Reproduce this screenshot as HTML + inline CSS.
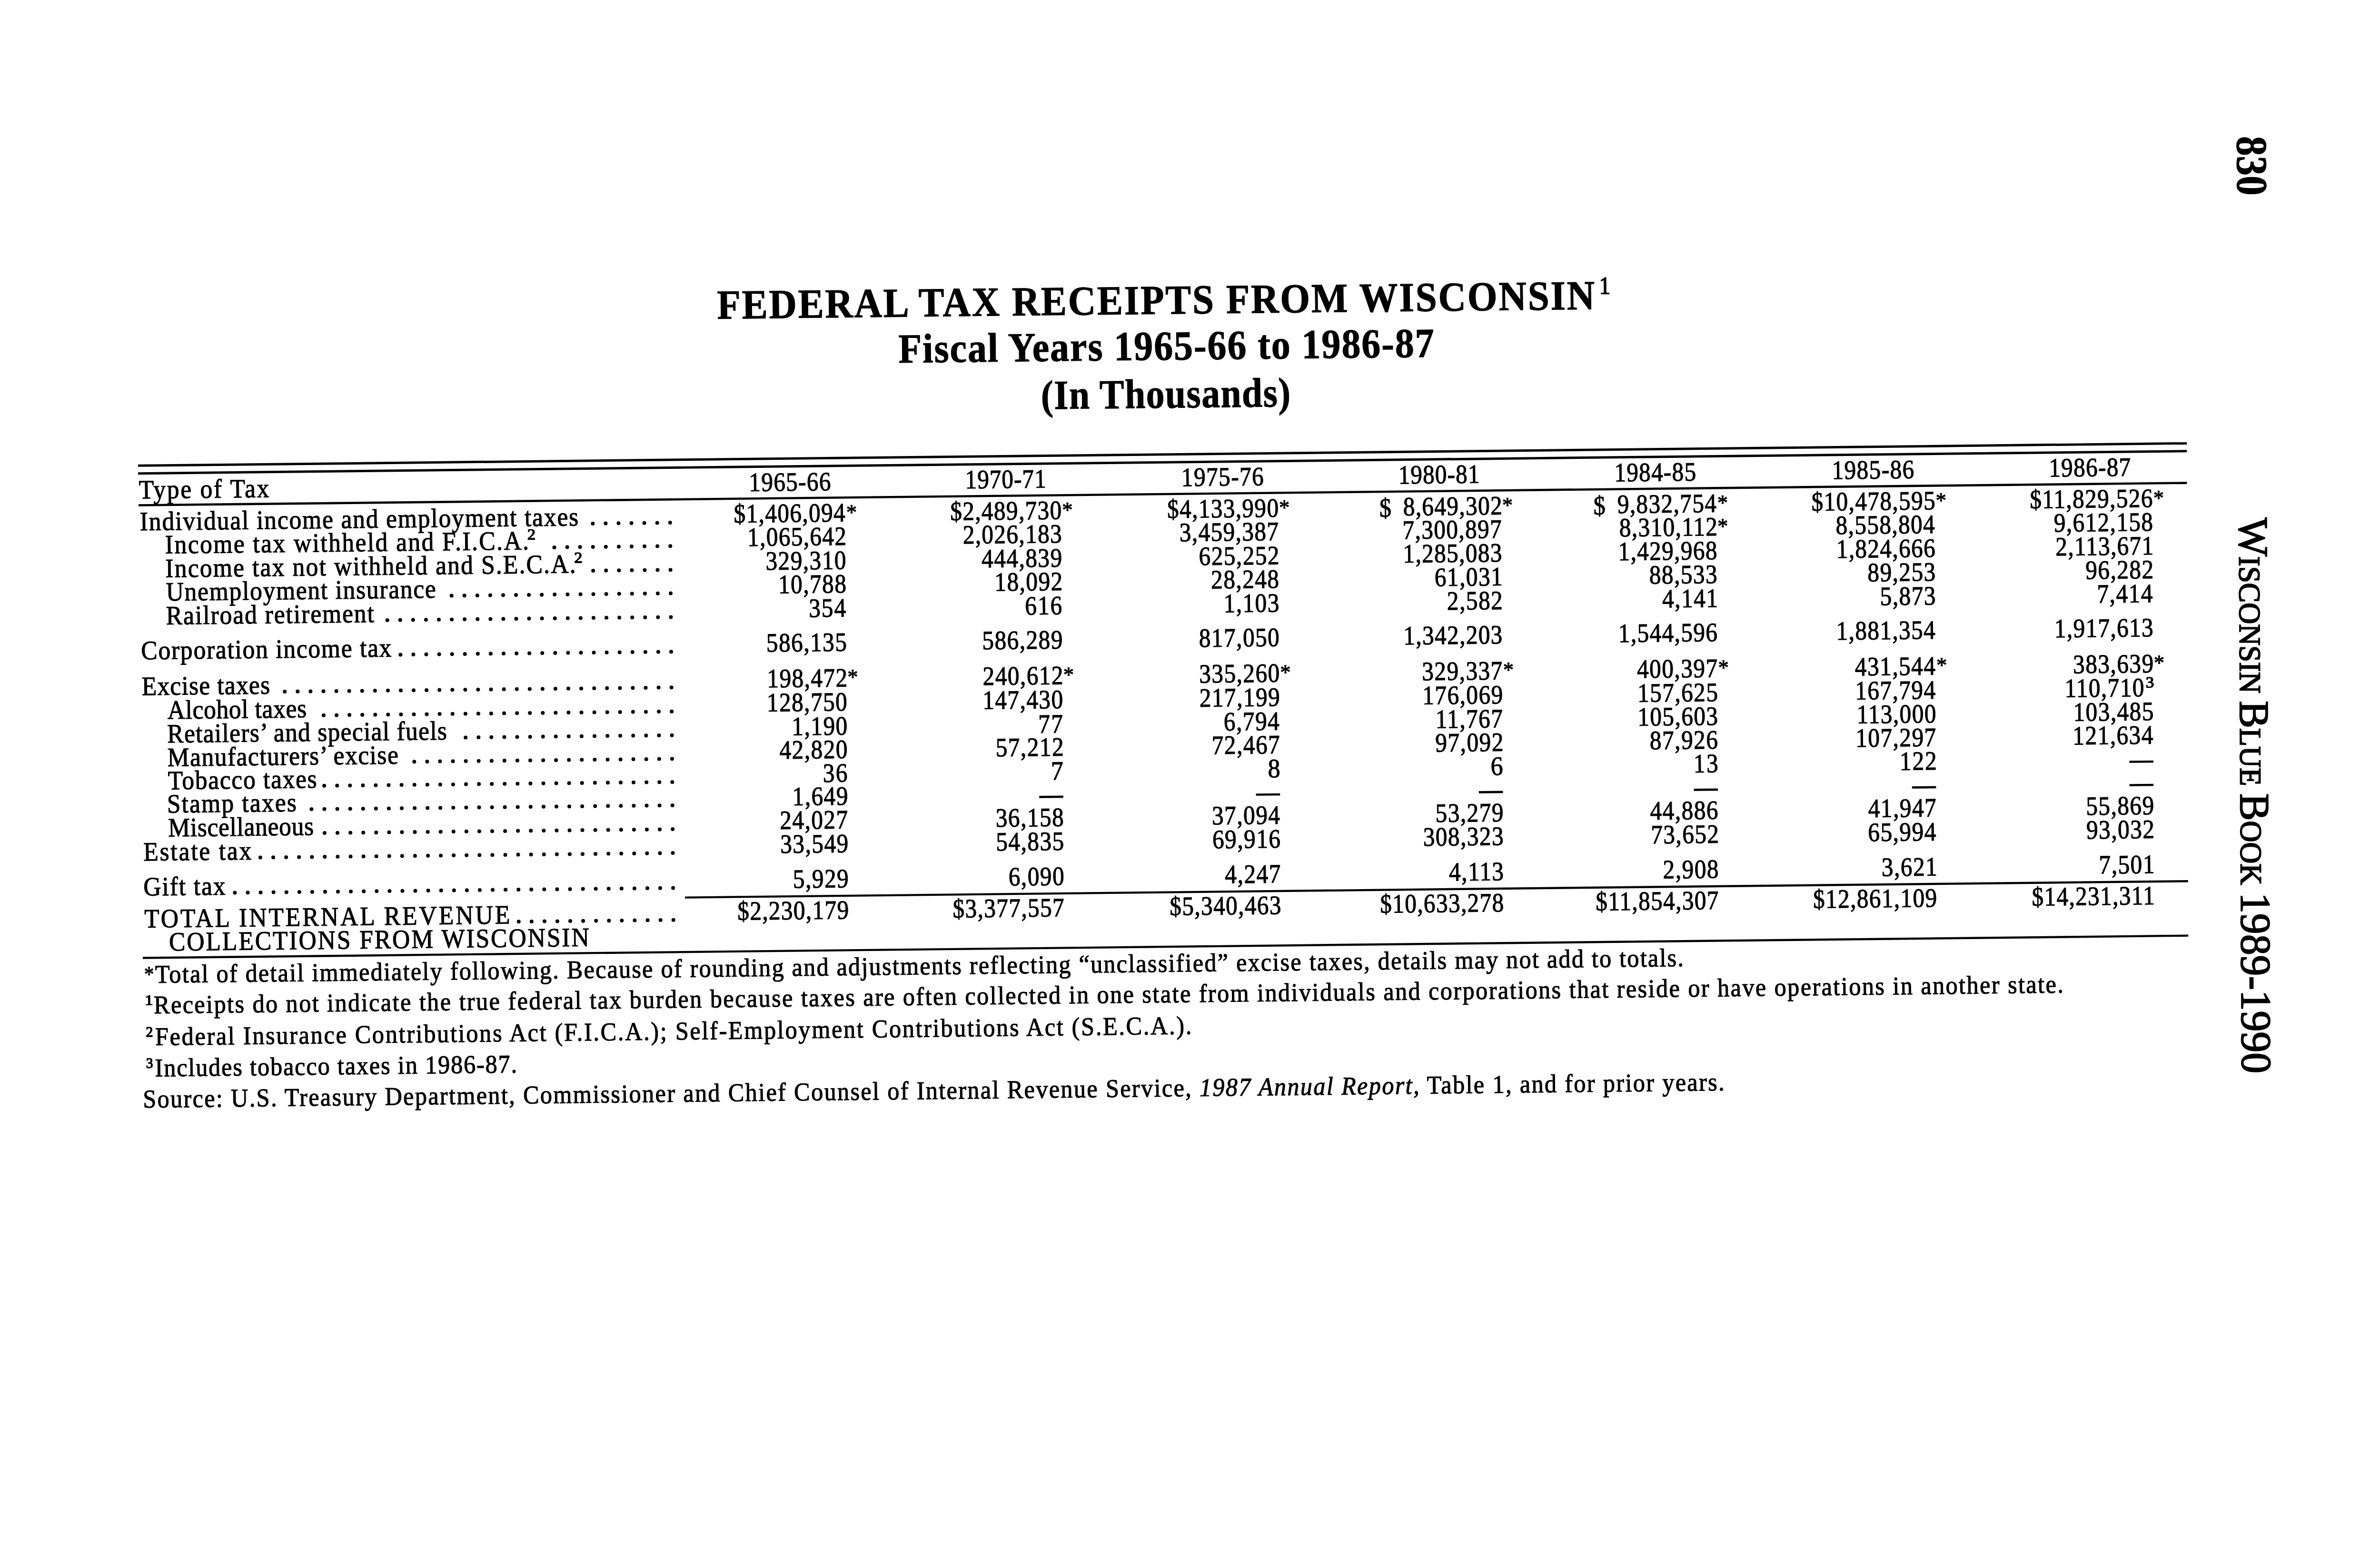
<!DOCTYPE html>
<html><head><meta charset="utf-8"><title>Federal Tax Receipts from Wisconsin</title>
<style>
html,body{margin:0;padding:0;background:#fff;}
body{width:5220px;height:3248px;overflow:hidden;}
svg{display:block;will-change:transform;}
text{font-family:"Liberation Serif",serif;fill:#000;stroke:#000;stroke-width:1.1px;}
</style></head><body>
<svg width="5220" height="3248" viewBox="0 0 5220 3248">
<rect width="5220" height="3248" fill="#fff"/>
<g fill="#000">
<text x="0" y="0" font-size="87.0" font-weight="bold" letter-spacing="3.01" transform="rotate(-0.6245 1506.7 669.7) translate(1506.7 669.7) scale(0.930 1)">FEDERAL TAX RECEIPTS FROM WISCONSIN</text>
<text x="3360.0" y="617.4" font-size="52.0" textLength="23.0" lengthAdjust="spacingAndGlyphs" transform="rotate(-0.6245 3360.0 617.4)" style="stroke-width:1.8px">1</text>
<text x="0" y="0" font-size="87.0" font-weight="bold" letter-spacing="2.06" transform="rotate(-0.6245 1887.8 762.0) translate(1887.8 762.0) scale(0.920 1)">Fiscal Years 1965-66 to 1986-87</text>
<text x="0" y="0" font-size="87.0" font-weight="bold" letter-spacing="1.71" transform="rotate(-0.6245 2187.3 859.5) translate(2187.3 859.5) scale(0.890 1)">(In Thousands)</text>
<rect x="290.0" y="975.8" width="4304.5" height="5.0" transform="rotate(-0.6245 290.0 978.3)"/>
<rect x="290.0" y="992.2" width="4304.5" height="5.0" transform="rotate(-0.6245 290.0 994.7)"/>
<rect x="291.0" y="1059.2" width="4303.5" height="4.6" transform="rotate(-0.6245 291.0 1061.5)"/>
<rect x="1439.0" y="1883.4" width="3158.0" height="4.4" transform="rotate(-0.6245 1439.0 1885.6)"/>
<rect x="300.0" y="2010.3" width="4297.5" height="4.4" transform="rotate(-0.6245 300.0 2012.5)"/>
<text x="0" y="0" font-size="56.0" letter-spacing="2.962" transform="rotate(-0.6245 291.9 1047.5) translate(291.9 1047.5) scale(0.9200 1)">Type of Tax</text>
<text x="0" y="0" font-size="56.0" letter-spacing="1.486" transform="rotate(-0.6245 1573.5 1032.0) translate(1573.5 1032.0) scale(0.8800 1)">1965-66</text>
<text x="0" y="0" font-size="56.0" letter-spacing="1.106" transform="rotate(-0.6245 2027.8 1026.3) translate(2027.8 1026.3) scale(0.8800 1)">1970-71</text>
<text x="0" y="0" font-size="56.0" letter-spacing="1.638" transform="rotate(-0.6245 2482.1 1021.4) translate(2482.1 1021.4) scale(0.8800 1)">1975-76</text>
<text x="0" y="0" font-size="56.0" letter-spacing="1.239" transform="rotate(-0.6245 2937.9 1016.4) translate(2937.9 1016.4) scale(0.8800 1)">1980-81</text>
<text x="0" y="0" font-size="56.0" letter-spacing="1.440" transform="rotate(-0.6245 3391.5 1011.5) translate(3391.5 1011.5) scale(0.8800 1)">1984-85</text>
<text x="0" y="0" font-size="56.0" letter-spacing="1.619" transform="rotate(-0.6245 3848.7 1006.5) translate(3848.7 1006.5) scale(0.8800 1)">1985-86</text>
<text x="0" y="0" font-size="56.0" letter-spacing="1.496" transform="rotate(-0.6245 4304.4 1001.5) translate(4304.4 1001.5) scale(0.8800 1)">1986-87</text>
<text x="0" y="0" font-size="56.0" letter-spacing="2.021" transform="rotate(-0.6245 294.1 1114.2) translate(294.1 1114.2) scale(0.9200 1)">Individual income and employment taxes</text>
<text x="0" y="0" font-size="56.0" letter-spacing="1.570" transform="rotate(-0.6245 1541.7 1098.1) translate(1541.7 1098.1) scale(0.8800 1)">$1,406,094</text>
<text x="1777.9" y="1091.4" font-size="46.0" textLength="22.3" lengthAdjust="spacingAndGlyphs" transform="rotate(-0.6245 1777.9 1091.4)">*</text>
<text x="0" y="0" font-size="56.0" letter-spacing="1.562" transform="rotate(-0.6245 1996.4 1093.1) translate(1996.4 1093.1) scale(0.8800 1)">$2,489,730</text>
<text x="2231.5" y="1086.5" font-size="46.0" textLength="22.3" lengthAdjust="spacingAndGlyphs" transform="rotate(-0.6245 2231.5 1086.5)">*</text>
<text x="0" y="0" font-size="56.0" letter-spacing="1.562" transform="rotate(-0.6245 2452.2 1088.2) translate(2452.2 1088.2) scale(0.8800 1)">$4,133,990</text>
<text x="2687.3" y="1081.5" font-size="46.0" textLength="22.3" lengthAdjust="spacingAndGlyphs" transform="rotate(-0.6245 2687.3 1081.5)">*</text>
<text x="0" y="0" font-size="56.0" letter-spacing="1.554" transform="rotate(-0.6245 2947.9 1083.1) translate(2947.9 1083.1) scale(0.8800 1)">8,649,302</text>
<text x="2898.1" y="1085.8" font-size="56.0" textLength="25.2" lengthAdjust="spacingAndGlyphs" transform="rotate(-0.6245 2898.1 1085.8)">$</text>
<text x="3156.0" y="1076.4" font-size="46.0" textLength="22.3" lengthAdjust="spacingAndGlyphs" transform="rotate(-0.6245 3156.0 1076.4)">*</text>
<text x="0" y="0" font-size="56.0" letter-spacing="1.572" transform="rotate(-0.6245 3397.9 1078.1) translate(3397.9 1078.1) scale(0.8800 1)">9,832,754</text>
<text x="3347.8" y="1080.9" font-size="56.0" textLength="25.2" lengthAdjust="spacingAndGlyphs" transform="rotate(-0.6245 3347.8 1080.9)">$</text>
<text x="3608.1" y="1071.5" font-size="46.0" textLength="22.3" lengthAdjust="spacingAndGlyphs" transform="rotate(-0.6245 3608.1 1071.5)">*</text>
<text x="0" y="0" font-size="56.0" letter-spacing="1.565" transform="rotate(-0.6245 3805.8 1073.1) translate(3805.8 1073.1) scale(0.8800 1)">$10,478,595</text>
<text x="4066.8" y="1066.5" font-size="46.0" textLength="22.3" lengthAdjust="spacingAndGlyphs" transform="rotate(-0.6245 4066.8 1066.5)">*</text>
<text x="0" y="0" font-size="56.0" letter-spacing="1.556" transform="rotate(-0.6245 4264.4 1068.1) translate(4264.4 1068.1) scale(0.8800 1)">$11,829,526</text>
<text x="4524.0" y="1061.5" font-size="46.0" textLength="22.3" lengthAdjust="spacingAndGlyphs" transform="rotate(-0.6245 4524.0 1061.5)">*</text>
<text x="0" y="0" font-size="56.0" letter-spacing="2.660" transform="rotate(-0.6245 347.1 1162.8) translate(347.1 1162.8) scale(0.9200 1)">Income tax withheld and F.I.C.A.</text>
<text x="1108.0" y="1133.5" font-size="32.0" textLength="17.1" lengthAdjust="spacingAndGlyphs" transform="rotate(-0.6245 1108.0 1133.5)" style="stroke-width:1.6px">2</text>
<text x="0" y="0" font-size="56.0" letter-spacing="1.534" transform="rotate(-0.6245 1570.3 1147.3) translate(1570.3 1147.3) scale(0.8800 1)">1,065,642</text>
<text x="0" y="0" font-size="56.0" letter-spacing="1.558" transform="rotate(-0.6245 2022.9 1142.3) translate(2022.9 1142.3) scale(0.8800 1)">2,026,183</text>
<text x="0" y="0" font-size="56.0" letter-spacing="1.560" transform="rotate(-0.6245 2478.1 1137.3) translate(2478.1 1137.3) scale(0.8800 1)">3,459,387</text>
<text x="0" y="0" font-size="56.0" letter-spacing="1.553" transform="rotate(-0.6245 2946.8 1132.2) translate(2946.8 1132.2) scale(0.8800 1)">7,300,897</text>
<text x="0" y="0" font-size="56.0" letter-spacing="1.539" transform="rotate(-0.6245 3402.1 1127.3) translate(3402.1 1127.3) scale(0.8800 1)">8,310,112</text>
<text x="3608.3" y="1120.7" font-size="46.0" textLength="22.3" lengthAdjust="spacingAndGlyphs" transform="rotate(-0.6245 3608.3 1120.7)">*</text>
<text x="0" y="0" font-size="56.0" letter-spacing="1.570" transform="rotate(-0.6245 3856.8 1122.3) translate(3856.8 1122.3) scale(0.8800 1)">8,558,804</text>
<text x="0" y="0" font-size="56.0" letter-spacing="1.563" transform="rotate(-0.6245 4315.1 1117.3) translate(4315.1 1117.3) scale(0.8800 1)">9,612,158</text>
<text x="0" y="0" font-size="56.0" letter-spacing="2.383" transform="rotate(-0.6245 347.6 1212.7) translate(347.6 1212.7) scale(0.9200 1)">Income tax not withheld and S.E.C.A.</text>
<text x="1206.5" y="1182.3" font-size="32.0" textLength="17.1" lengthAdjust="spacingAndGlyphs" transform="rotate(-0.6245 1206.5 1182.3)" style="stroke-width:1.6px">2</text>
<text x="0" y="0" font-size="56.0" letter-spacing="1.678" transform="rotate(-0.6245 1608.7 1197.2) translate(1608.7 1197.2) scale(0.8800 1)">329,310</text>
<text x="0" y="0" font-size="56.0" letter-spacing="1.691" transform="rotate(-0.6245 2062.3 1192.2) translate(2062.3 1192.2) scale(0.8800 1)">444,839</text>
<text x="0" y="0" font-size="56.0" letter-spacing="1.671" transform="rotate(-0.6245 2518.8 1187.2) translate(2518.8 1187.2) scale(0.8800 1)">625,252</text>
<text x="0" y="0" font-size="56.0" letter-spacing="1.540" transform="rotate(-0.6245 2947.7 1182.1) translate(2947.7 1182.1) scale(0.8800 1)">1,285,083</text>
<text x="0" y="0" font-size="56.0" letter-spacing="1.541" transform="rotate(-0.6245 3399.7 1177.2) translate(3399.7 1177.2) scale(0.8800 1)">1,429,968</text>
<text x="0" y="0" font-size="56.0" letter-spacing="1.544" transform="rotate(-0.6245 3857.9 1172.2) translate(3857.9 1172.2) scale(0.8800 1)">1,824,666</text>
<text x="0" y="0" font-size="56.0" letter-spacing="1.535" transform="rotate(-0.6245 4318.4 1167.2) translate(4318.4 1167.2) scale(0.8800 1)">2,113,671</text>
<text x="0" y="0" font-size="56.0" letter-spacing="1.884" transform="rotate(-0.6245 348.9 1262.0) translate(348.9 1262.0) scale(0.9200 1)">Unemployment insurance</text>
<text x="0" y="0" font-size="56.0" letter-spacing="1.670" transform="rotate(-0.6245 1635.2 1246.5) translate(1635.2 1246.5) scale(0.8800 1)">10,788</text>
<text x="0" y="0" font-size="56.0" letter-spacing="1.659" transform="rotate(-0.6245 2089.6 1241.5) translate(2089.6 1241.5) scale(0.8800 1)">18,092</text>
<text x="0" y="0" font-size="56.0" letter-spacing="1.698" transform="rotate(-0.6245 2544.3 1236.5) translate(2544.3 1236.5) scale(0.8800 1)">28,248</text>
<text x="0" y="0" font-size="56.0" letter-spacing="1.684" transform="rotate(-0.6245 3014.0 1231.4) translate(3014.0 1231.4) scale(0.8800 1)">61,031</text>
<text x="0" y="0" font-size="56.0" letter-spacing="1.701" transform="rotate(-0.6245 3464.9 1226.5) translate(3464.9 1226.5) scale(0.8800 1)">88,533</text>
<text x="0" y="0" font-size="56.0" letter-spacing="1.701" transform="rotate(-0.6245 3923.5 1221.5) translate(3923.5 1221.5) scale(0.8800 1)">89,253</text>
<text x="0" y="0" font-size="56.0" letter-spacing="1.694" transform="rotate(-0.6245 4381.4 1216.5) translate(4381.4 1216.5) scale(0.8800 1)">96,282</text>
<text x="0" y="0" font-size="56.0" letter-spacing="2.128" transform="rotate(-0.6245 349.0 1311.9) translate(349.0 1311.9) scale(0.9200 1)">Railroad retirement</text>
<text x="0" y="0" font-size="56.0" letter-spacing="2.285" transform="rotate(-0.6245 1699.4 1296.4) translate(1699.4 1296.4) scale(0.8800 1)">354</text>
<text x="0" y="0" font-size="56.0" letter-spacing="2.271" transform="rotate(-0.6245 2153.6 1291.4) translate(2153.6 1291.4) scale(0.8800 1)">616</text>
<text x="0" y="0" font-size="56.0" letter-spacing="1.689" transform="rotate(-0.6245 2570.8 1286.4) translate(2570.8 1286.4) scale(0.8800 1)">1,103</text>
<text x="0" y="0" font-size="56.0" letter-spacing="1.711" transform="rotate(-0.6245 3040.1 1281.3) translate(3040.1 1281.3) scale(0.8800 1)">2,582</text>
<text x="0" y="0" font-size="56.0" letter-spacing="1.726" transform="rotate(-0.6245 3492.2 1276.4) translate(3492.2 1276.4) scale(0.8800 1)">4,141</text>
<text x="0" y="0" font-size="56.0" letter-spacing="1.712" transform="rotate(-0.6245 3949.8 1271.4) translate(3949.8 1271.4) scale(0.8800 1)">5,873</text>
<text x="0" y="0" font-size="56.0" letter-spacing="1.725" transform="rotate(-0.6245 4405.7 1266.4) translate(4405.7 1266.4) scale(0.8800 1)">7,414</text>
<text x="0" y="0" font-size="56.0" letter-spacing="1.906" transform="rotate(-0.6245 296.6 1385.3) translate(296.6 1385.3) scale(0.9200 1)">Corporation income tax</text>
<text x="0" y="0" font-size="56.0" letter-spacing="1.672" transform="rotate(-0.6245 1610.1 1369.2) translate(1610.1 1369.2) scale(0.8800 1)">586,135</text>
<text x="0" y="0" font-size="56.0" letter-spacing="1.671" transform="rotate(-0.6245 2063.6 1364.2) translate(2063.6 1364.2) scale(0.8800 1)">586,289</text>
<text x="0" y="0" font-size="56.0" letter-spacing="1.683" transform="rotate(-0.6245 2519.0 1359.3) translate(2519.0 1359.3) scale(0.8800 1)">817,050</text>
<text x="0" y="0" font-size="56.0" letter-spacing="1.540" transform="rotate(-0.6245 2948.6 1354.2) translate(2948.6 1354.2) scale(0.8800 1)">1,342,203</text>
<text x="0" y="0" font-size="56.0" letter-spacing="1.544" transform="rotate(-0.6245 3400.1 1349.2) translate(3400.1 1349.2) scale(0.8800 1)">1,544,596</text>
<text x="0" y="0" font-size="56.0" letter-spacing="1.550" transform="rotate(-0.6245 3857.8 1344.2) translate(3857.8 1344.2) scale(0.8800 1)">1,881,354</text>
<text x="0" y="0" font-size="56.0" letter-spacing="1.540" transform="rotate(-0.6245 4316.0 1339.3) translate(4316.0 1339.3) scale(0.8800 1)">1,917,613</text>
<text x="0" y="0" font-size="56.0" letter-spacing="1.306" transform="rotate(-0.6245 298.0 1460.4) translate(298.0 1460.4) scale(0.9200 1)">Excise taxes</text>
<text x="0" y="0" font-size="56.0" letter-spacing="1.648" transform="rotate(-0.6245 1611.6 1444.3) translate(1611.6 1444.3) scale(0.8800 1)">198,472</text>
<text x="1780.6" y="1437.6" font-size="46.0" textLength="22.3" lengthAdjust="spacingAndGlyphs" transform="rotate(-0.6245 1780.6 1437.6)">*</text>
<text x="0" y="0" font-size="56.0" letter-spacing="1.671" transform="rotate(-0.6245 2064.8 1439.3) translate(2064.8 1439.3) scale(0.8800 1)">240,612</text>
<text x="2233.9" y="1432.7" font-size="46.0" textLength="22.3" lengthAdjust="spacingAndGlyphs" transform="rotate(-0.6245 2233.9 1432.7)">*</text>
<text x="0" y="0" font-size="56.0" letter-spacing="1.678" transform="rotate(-0.6245 2519.5 1434.4) translate(2519.5 1434.4) scale(0.8800 1)">335,260</text>
<text x="2689.5" y="1427.7" font-size="46.0" textLength="22.3" lengthAdjust="spacingAndGlyphs" transform="rotate(-0.6245 2689.5 1427.7)">*</text>
<text x="0" y="0" font-size="56.0" letter-spacing="1.683" transform="rotate(-0.6245 2987.5 1429.3) translate(2987.5 1429.3) scale(0.8800 1)">329,337</text>
<text x="3157.9" y="1422.6" font-size="46.0" textLength="22.3" lengthAdjust="spacingAndGlyphs" transform="rotate(-0.6245 3157.9 1422.6)">*</text>
<text x="0" y="0" font-size="56.0" letter-spacing="1.698" transform="rotate(-0.6245 3439.2 1424.3) translate(3439.2 1424.3) scale(0.8800 1)">400,397</text>
<text x="3609.8" y="1417.7" font-size="46.0" textLength="22.3" lengthAdjust="spacingAndGlyphs" transform="rotate(-0.6245 3609.8 1417.7)">*</text>
<text x="0" y="0" font-size="56.0" letter-spacing="1.705" transform="rotate(-0.6245 3897.0 1419.4) translate(3897.0 1419.4) scale(0.8800 1)">431,544</text>
<text x="4068.2" y="1412.7" font-size="46.0" textLength="22.3" lengthAdjust="spacingAndGlyphs" transform="rotate(-0.6245 4068.2 1412.7)">*</text>
<text x="0" y="0" font-size="56.0" letter-spacing="1.676" transform="rotate(-0.6245 4355.3 1414.4) translate(4355.3 1414.4) scale(0.8800 1)">383,639</text>
<text x="4525.1" y="1407.7" font-size="46.0" textLength="22.3" lengthAdjust="spacingAndGlyphs" transform="rotate(-0.6245 4525.1 1407.7)">*</text>
<text x="0" y="0" font-size="56.0" letter-spacing="0.687" transform="rotate(-0.6245 352.0 1510.3) translate(352.0 1510.3) scale(0.9200 1)">Alcohol taxes</text>
<text x="0" y="0" font-size="56.0" letter-spacing="1.657" transform="rotate(-0.6245 1611.1 1494.8) translate(1611.1 1494.8) scale(0.8800 1)">128,750</text>
<text x="0" y="0" font-size="56.0" letter-spacing="1.657" transform="rotate(-0.6245 2064.4 1489.8) translate(2064.4 1489.8) scale(0.8800 1)">147,430</text>
<text x="0" y="0" font-size="56.0" letter-spacing="1.678" transform="rotate(-0.6245 2519.9 1484.9) translate(2519.9 1484.9) scale(0.8800 1)">217,199</text>
<text x="0" y="0" font-size="56.0" letter-spacing="1.655" transform="rotate(-0.6245 2988.5 1479.7) translate(2988.5 1479.7) scale(0.8800 1)">176,069</text>
<text x="0" y="0" font-size="56.0" letter-spacing="1.656" transform="rotate(-0.6245 3440.2 1474.8) translate(3440.2 1474.8) scale(0.8800 1)">157,625</text>
<text x="0" y="0" font-size="56.0" letter-spacing="1.669" transform="rotate(-0.6245 3897.4 1469.8) translate(3897.4 1469.8) scale(0.8800 1)">167,794</text>
<text x="4507.9" y="1444.3" font-size="32.0" textLength="17.3" lengthAdjust="spacingAndGlyphs" transform="rotate(-0.6245 4507.9 1444.3)" style="stroke-width:1.6px">3</text>
<text x="0" y="0" font-size="56.0" letter-spacing="1.637" transform="rotate(-0.6245 4337.7 1464.8) translate(4337.7 1464.8) scale(0.8800 1)">110,710</text>
<text x="0" y="0" font-size="56.0" letter-spacing="1.410" transform="rotate(-0.6245 351.5 1560.2) translate(351.5 1560.2) scale(0.9200 1)">Retailers’ and special fuels</text>
<text x="0" y="0" font-size="56.0" letter-spacing="1.690" transform="rotate(-0.6245 1663.6 1544.7) translate(1663.6 1544.7) scale(0.8800 1)">1,190</text>
<text x="0" y="0" font-size="56.0" letter-spacing="2.880" transform="rotate(-0.6245 2181.4 1539.7) translate(2181.4 1539.7) scale(0.8800 1)">77</text>
<text x="0" y="0" font-size="56.0" letter-spacing="1.743" transform="rotate(-0.6245 2571.0 1534.8) translate(2571.0 1534.8) scale(0.8800 1)">6,794</text>
<text x="0" y="0" font-size="56.0" letter-spacing="1.652" transform="rotate(-0.6245 3016.1 1529.7) translate(3016.1 1529.7) scale(0.8800 1)">11,767</text>
<text x="0" y="0" font-size="56.0" letter-spacing="1.656" transform="rotate(-0.6245 3440.4 1524.7) translate(3440.4 1524.7) scale(0.8800 1)">105,603</text>
<text x="0" y="0" font-size="56.0" letter-spacing="1.637" transform="rotate(-0.6245 3900.7 1519.7) translate(3900.7 1519.7) scale(0.8800 1)">113,000</text>
<text x="0" y="0" font-size="56.0" letter-spacing="1.656" transform="rotate(-0.6245 4355.7 1514.8) translate(4355.7 1514.8) scale(0.8800 1)">103,485</text>
<text x="0" y="0" font-size="56.0" letter-spacing="1.619" transform="rotate(-0.6245 352.0 1609.8) translate(352.0 1609.8) scale(0.9200 1)">Manufacturers’ excise</text>
<text x="0" y="0" font-size="56.0" letter-spacing="1.713" transform="rotate(-0.6245 1637.7 1594.3) translate(1637.7 1594.3) scale(0.8800 1)">42,820</text>
<text x="0" y="0" font-size="56.0" letter-spacing="1.678" transform="rotate(-0.6245 2091.9 1589.3) translate(2091.9 1589.3) scale(0.8800 1)">57,212</text>
<text x="0" y="0" font-size="56.0" letter-spacing="1.690" transform="rotate(-0.6245 2546.0 1584.4) translate(2546.0 1584.4) scale(0.8800 1)">72,467</text>
<text x="0" y="0" font-size="56.0" letter-spacing="1.694" transform="rotate(-0.6245 3015.6 1579.3) translate(3015.6 1579.3) scale(0.8800 1)">97,092</text>
<text x="0" y="0" font-size="56.0" letter-spacing="1.707" transform="rotate(-0.6245 3466.1 1574.3) translate(3466.1 1574.3) scale(0.8800 1)">87,926</text>
<text x="0" y="0" font-size="56.0" letter-spacing="1.662" transform="rotate(-0.6245 3898.5 1569.3) translate(3898.5 1569.3) scale(0.8800 1)">107,297</text>
<text x="0" y="0" font-size="56.0" letter-spacing="1.669" transform="rotate(-0.6245 4354.6 1564.4) translate(4354.6 1564.4) scale(0.8800 1)">121,634</text>
<text x="0" y="0" font-size="56.0" letter-spacing="1.853" transform="rotate(-0.6245 353.0 1658.4) translate(353.0 1658.4) scale(0.9200 1)">Tobacco taxes</text>
<text x="0" y="0" font-size="56.0" letter-spacing="2.935" transform="rotate(-0.6245 1728.9 1642.9) translate(1728.9 1642.9) scale(0.8800 1)">36</text>
<text x="2234.0" y="1637.9" font-size="56.0" text-anchor="end" textLength="26.0" lengthAdjust="spacingAndGlyphs" transform="rotate(-0.6245 2234.0 1637.9)">7</text>
<text x="2689.8" y="1633.0" font-size="56.0" text-anchor="end" textLength="26.0" lengthAdjust="spacingAndGlyphs" transform="rotate(-0.6245 2689.8 1633.0)">8</text>
<text x="3157.7" y="1627.9" font-size="56.0" text-anchor="end" textLength="26.0" lengthAdjust="spacingAndGlyphs" transform="rotate(-0.6245 3157.7 1627.9)">6</text>
<text x="0" y="0" font-size="56.0" letter-spacing="2.778" transform="rotate(-0.6245 3558.1 1622.9) translate(3558.1 1622.9) scale(0.8800 1)">13</text>
<text x="0" y="0" font-size="56.0" letter-spacing="2.159" transform="rotate(-0.6245 3991.2 1617.9) translate(3991.2 1617.9) scale(0.8800 1)">122</text>
<rect x="4473.4" y="1598.2" width="50.6" height="4.6" transform="rotate(-0.6245 4473.4 1600.5)"/>
<text x="0" y="0" font-size="56.0" letter-spacing="2.366" transform="rotate(-0.6245 351.0 1707.4) translate(351.0 1707.4) scale(0.9200 1)">Stamp taxes</text>
<text x="0" y="0" font-size="56.0" letter-spacing="1.687" transform="rotate(-0.6245 1664.8 1691.9) translate(1664.8 1691.9) scale(0.8800 1)">1,649</text>
<rect x="2183.2" y="1672.1" width="50.6" height="4.6" transform="rotate(-0.6245 2183.2 1674.4)"/>
<rect x="2638.6" y="1667.2" width="50.6" height="4.6" transform="rotate(-0.6245 2638.6 1669.5)"/>
<rect x="3106.8" y="1662.1" width="50.6" height="4.6" transform="rotate(-0.6245 3106.8 1664.4)"/>
<rect x="3558.5" y="1657.1" width="50.6" height="4.6" transform="rotate(-0.6245 3558.5 1659.4)"/>
<rect x="4016.8" y="1652.1" width="50.6" height="4.6" transform="rotate(-0.6245 4016.8 1654.4)"/>
<rect x="4473.5" y="1647.2" width="50.6" height="4.6" transform="rotate(-0.6245 4473.5 1649.5)"/>
<text x="0" y="0" font-size="56.0" letter-spacing="0.753" transform="rotate(-0.6245 353.4 1757.6) translate(353.4 1757.6) scale(0.9200 1)">Miscellaneous</text>
<text x="0" y="0" font-size="56.0" letter-spacing="1.704" transform="rotate(-0.6245 1638.4 1742.1) translate(1638.4 1742.1) scale(0.8800 1)">24,027</text>
<text x="0" y="0" font-size="56.0" letter-spacing="1.695" transform="rotate(-0.6245 2092.0 1737.1) translate(2092.0 1737.1) scale(0.8800 1)">36,158</text>
<text x="0" y="0" font-size="56.0" letter-spacing="1.710" transform="rotate(-0.6245 2546.2 1732.2) translate(2546.2 1732.2) scale(0.8800 1)">37,094</text>
<text x="0" y="0" font-size="56.0" letter-spacing="1.687" transform="rotate(-0.6245 3015.8 1727.1) translate(3015.8 1727.1) scale(0.8800 1)">53,279</text>
<text x="0" y="0" font-size="56.0" letter-spacing="1.719" transform="rotate(-0.6245 3466.7 1722.1) translate(3466.7 1722.1) scale(0.8800 1)">44,886</text>
<text x="0" y="0" font-size="56.0" letter-spacing="1.719" transform="rotate(-0.6245 3924.9 1717.1) translate(3924.9 1717.1) scale(0.8800 1)">41,947</text>
<text x="0" y="0" font-size="56.0" letter-spacing="1.687" transform="rotate(-0.6245 4382.4 1712.2) translate(4382.4 1712.2) scale(0.8800 1)">55,869</text>
<text x="0" y="0" font-size="56.0" letter-spacing="3.052" transform="rotate(-0.6245 301.5 1808.2) translate(301.5 1808.2) scale(0.9200 1)">Estate tax</text>
<text x="0" y="0" font-size="56.0" letter-spacing="1.693" transform="rotate(-0.6245 1639.5 1792.1) translate(1639.5 1792.1) scale(0.8800 1)">33,549</text>
<text x="0" y="0" font-size="56.0" letter-spacing="1.688" transform="rotate(-0.6245 2092.5 1787.2) translate(2092.5 1787.2) scale(0.8800 1)">54,835</text>
<text x="0" y="0" font-size="56.0" letter-spacing="1.704" transform="rotate(-0.6245 2547.2 1782.2) translate(2547.2 1782.2) scale(0.8800 1)">69,916</text>
<text x="0" y="0" font-size="56.0" letter-spacing="1.677" transform="rotate(-0.6245 2989.9 1777.1) translate(2989.9 1777.1) scale(0.8800 1)">308,323</text>
<text x="0" y="0" font-size="56.0" letter-spacing="1.673" transform="rotate(-0.6245 3468.4 1772.2) translate(3468.4 1772.2) scale(0.8800 1)">73,652</text>
<text x="0" y="0" font-size="56.0" letter-spacing="1.713" transform="rotate(-0.6245 3924.5 1767.2) translate(3924.5 1767.2) scale(0.8800 1)">65,994</text>
<text x="0" y="0" font-size="56.0" letter-spacing="1.694" transform="rotate(-0.6245 4383.2 1762.2) translate(4383.2 1762.2) scale(0.8800 1)">93,032</text>
<text x="0" y="0" font-size="56.0" letter-spacing="2.090" transform="rotate(-0.6245 301.6 1881.6) translate(301.6 1881.6) scale(0.9200 1)">Gift tax</text>
<text x="0" y="0" font-size="56.0" letter-spacing="1.711" transform="rotate(-0.6245 1666.1 1865.5) translate(1666.1 1865.5) scale(0.8800 1)">5,929</text>
<text x="0" y="0" font-size="56.0" letter-spacing="1.725" transform="rotate(-0.6245 2118.9 1860.6) translate(2118.9 1860.6) scale(0.8800 1)">6,090</text>
<text x="0" y="0" font-size="56.0" letter-spacing="1.751" transform="rotate(-0.6245 2573.6 1855.6) translate(2573.6 1855.6) scale(0.8800 1)">4,247</text>
<text x="0" y="0" font-size="56.0" letter-spacing="1.714" transform="rotate(-0.6245 3044.2 1850.5) translate(3044.2 1850.5) scale(0.8800 1)">4,113</text>
<text x="0" y="0" font-size="56.0" letter-spacing="1.725" transform="rotate(-0.6245 3493.8 1845.6) translate(3493.8 1845.6) scale(0.8800 1)">2,908</text>
<text x="0" y="0" font-size="56.0" letter-spacing="1.704" transform="rotate(-0.6245 3953.1 1840.6) translate(3953.1 1840.6) scale(0.8800 1)">3,621</text>
<text x="0" y="0" font-size="56.0" letter-spacing="1.690" transform="rotate(-0.6245 4409.8 1835.6) translate(4409.8 1835.6) scale(0.8800 1)">7,501</text>
<text x="0" y="0" font-size="56.0" letter-spacing="4.374" transform="rotate(-0.6245 303.4 1948.8) translate(303.4 1948.8) scale(0.9200 1)">TOTAL INTERNAL REVENUE</text>
<text x="0" y="0" font-size="56.0" letter-spacing="1.561" transform="rotate(-0.6245 1549.4 1932.7) translate(1549.4 1932.7) scale(0.8800 1)">$2,230,179</text>
<text x="0" y="0" font-size="56.0" letter-spacing="1.566" transform="rotate(-0.6245 2001.7 1927.8) translate(2001.7 1927.8) scale(0.8800 1)">$3,377,557</text>
<text x="0" y="0" font-size="56.0" letter-spacing="1.562" transform="rotate(-0.6245 2457.5 1922.8) translate(2457.5 1922.8) scale(0.8800 1)">$5,340,463</text>
<text x="0" y="0" font-size="56.0" letter-spacing="1.565" transform="rotate(-0.6245 2899.4 1917.7) translate(2899.4 1917.7) scale(0.8800 1)">$10,633,278</text>
<text x="0" y="0" font-size="56.0" letter-spacing="1.556" transform="rotate(-0.6245 3352.4 1912.8) translate(3352.4 1912.8) scale(0.8800 1)">$11,854,307</text>
<text x="0" y="0" font-size="56.0" letter-spacing="1.564" transform="rotate(-0.6245 3809.2 1907.8) translate(3809.2 1907.8) scale(0.8800 1)">$12,861,109</text>
<text x="0" y="0" font-size="56.0" letter-spacing="1.546" transform="rotate(-0.6245 4268.7 1902.8) translate(4268.7 1902.8) scale(0.8800 1)">$14,231,311</text>
<text x="0" y="0" font-size="56.0" letter-spacing="3.206" transform="rotate(-0.6245 355.2 1997.3) translate(355.2 1997.3) scale(0.9200 1)">COLLECTIONS FROM WISCONSIN</text>
<circle cx="1407.8" cy="1098.1" r="4.0"/>
<circle cx="1380.7" cy="1098.4" r="4.0"/>
<circle cx="1353.6" cy="1098.7" r="4.0"/>
<circle cx="1326.6" cy="1099.0" r="4.0"/>
<circle cx="1299.5" cy="1099.3" r="4.0"/>
<circle cx="1272.4" cy="1099.6" r="4.0"/>
<circle cx="1245.3" cy="1099.9" r="4.0"/>
<circle cx="1408.2" cy="1147.3" r="4.0"/>
<circle cx="1381.1" cy="1147.5" r="4.0"/>
<circle cx="1354.0" cy="1147.8" r="4.0"/>
<circle cx="1327.0" cy="1148.1" r="4.0"/>
<circle cx="1299.9" cy="1148.4" r="4.0"/>
<circle cx="1272.8" cy="1148.7" r="4.0"/>
<circle cx="1245.7" cy="1149.0" r="4.0"/>
<circle cx="1218.6" cy="1149.3" r="4.0"/>
<circle cx="1191.6" cy="1149.6" r="4.0"/>
<circle cx="1164.5" cy="1149.9" r="4.0"/>
<circle cx="1408.6" cy="1197.2" r="4.0"/>
<circle cx="1381.5" cy="1197.5" r="4.0"/>
<circle cx="1354.5" cy="1197.7" r="4.0"/>
<circle cx="1327.4" cy="1198.0" r="4.0"/>
<circle cx="1300.3" cy="1198.3" r="4.0"/>
<circle cx="1273.2" cy="1198.6" r="4.0"/>
<circle cx="1246.1" cy="1198.9" r="4.0"/>
<circle cx="1409.0" cy="1246.5" r="4.0"/>
<circle cx="1381.9" cy="1246.8" r="4.0"/>
<circle cx="1354.9" cy="1247.0" r="4.0"/>
<circle cx="1327.8" cy="1247.3" r="4.0"/>
<circle cx="1300.7" cy="1247.6" r="4.0"/>
<circle cx="1273.6" cy="1247.9" r="4.0"/>
<circle cx="1246.5" cy="1248.2" r="4.0"/>
<circle cx="1219.5" cy="1248.5" r="4.0"/>
<circle cx="1192.4" cy="1248.8" r="4.0"/>
<circle cx="1165.3" cy="1249.1" r="4.0"/>
<circle cx="1138.2" cy="1249.4" r="4.0"/>
<circle cx="1111.1" cy="1249.7" r="4.0"/>
<circle cx="1084.1" cy="1250.0" r="4.0"/>
<circle cx="1057.0" cy="1250.3" r="4.0"/>
<circle cx="1029.9" cy="1250.6" r="4.0"/>
<circle cx="1002.8" cy="1250.9" r="4.0"/>
<circle cx="975.7" cy="1251.2" r="4.0"/>
<circle cx="948.7" cy="1251.5" r="4.0"/>
<circle cx="1409.4" cy="1296.4" r="4.0"/>
<circle cx="1382.3" cy="1296.7" r="4.0"/>
<circle cx="1355.3" cy="1296.9" r="4.0"/>
<circle cx="1328.2" cy="1297.2" r="4.0"/>
<circle cx="1301.1" cy="1297.5" r="4.0"/>
<circle cx="1274.0" cy="1297.8" r="4.0"/>
<circle cx="1246.9" cy="1298.1" r="4.0"/>
<circle cx="1219.9" cy="1298.4" r="4.0"/>
<circle cx="1192.8" cy="1298.7" r="4.0"/>
<circle cx="1165.7" cy="1299.0" r="4.0"/>
<circle cx="1138.6" cy="1299.3" r="4.0"/>
<circle cx="1111.5" cy="1299.6" r="4.0"/>
<circle cx="1084.5" cy="1299.9" r="4.0"/>
<circle cx="1057.4" cy="1300.2" r="4.0"/>
<circle cx="1030.3" cy="1300.5" r="4.0"/>
<circle cx="1003.2" cy="1300.8" r="4.0"/>
<circle cx="976.1" cy="1301.1" r="4.0"/>
<circle cx="949.1" cy="1301.4" r="4.0"/>
<circle cx="922.0" cy="1301.7" r="4.0"/>
<circle cx="894.9" cy="1302.0" r="4.0"/>
<circle cx="867.8" cy="1302.3" r="4.0"/>
<circle cx="840.7" cy="1302.6" r="4.0"/>
<circle cx="813.7" cy="1302.9" r="4.0"/>
<circle cx="1410.0" cy="1369.2" r="4.0"/>
<circle cx="1382.9" cy="1369.5" r="4.0"/>
<circle cx="1355.9" cy="1369.8" r="4.0"/>
<circle cx="1328.8" cy="1370.1" r="4.0"/>
<circle cx="1301.7" cy="1370.4" r="4.0"/>
<circle cx="1274.6" cy="1370.7" r="4.0"/>
<circle cx="1247.5" cy="1371.0" r="4.0"/>
<circle cx="1220.5" cy="1371.3" r="4.0"/>
<circle cx="1193.4" cy="1371.5" r="4.0"/>
<circle cx="1166.3" cy="1371.8" r="4.0"/>
<circle cx="1139.2" cy="1372.1" r="4.0"/>
<circle cx="1112.1" cy="1372.4" r="4.0"/>
<circle cx="1085.1" cy="1372.7" r="4.0"/>
<circle cx="1058.0" cy="1373.0" r="4.0"/>
<circle cx="1030.9" cy="1373.3" r="4.0"/>
<circle cx="1003.8" cy="1373.6" r="4.0"/>
<circle cx="976.7" cy="1373.9" r="4.0"/>
<circle cx="949.7" cy="1374.2" r="4.0"/>
<circle cx="922.6" cy="1374.5" r="4.0"/>
<circle cx="895.5" cy="1374.8" r="4.0"/>
<circle cx="868.4" cy="1375.1" r="4.0"/>
<circle cx="841.3" cy="1375.4" r="4.0"/>
<circle cx="1410.6" cy="1444.3" r="4.0"/>
<circle cx="1383.6" cy="1444.6" r="4.0"/>
<circle cx="1356.5" cy="1444.9" r="4.0"/>
<circle cx="1329.4" cy="1445.2" r="4.0"/>
<circle cx="1302.3" cy="1445.5" r="4.0"/>
<circle cx="1275.2" cy="1445.8" r="4.0"/>
<circle cx="1248.2" cy="1446.1" r="4.0"/>
<circle cx="1221.1" cy="1446.4" r="4.0"/>
<circle cx="1194.0" cy="1446.6" r="4.0"/>
<circle cx="1166.9" cy="1446.9" r="4.0"/>
<circle cx="1139.8" cy="1447.2" r="4.0"/>
<circle cx="1112.8" cy="1447.5" r="4.0"/>
<circle cx="1085.7" cy="1447.8" r="4.0"/>
<circle cx="1058.6" cy="1448.1" r="4.0"/>
<circle cx="1031.5" cy="1448.4" r="4.0"/>
<circle cx="1004.4" cy="1448.7" r="4.0"/>
<circle cx="977.4" cy="1449.0" r="4.0"/>
<circle cx="950.3" cy="1449.3" r="4.0"/>
<circle cx="923.2" cy="1449.6" r="4.0"/>
<circle cx="896.1" cy="1449.9" r="4.0"/>
<circle cx="869.0" cy="1450.2" r="4.0"/>
<circle cx="842.0" cy="1450.5" r="4.0"/>
<circle cx="814.9" cy="1450.8" r="4.0"/>
<circle cx="787.8" cy="1451.1" r="4.0"/>
<circle cx="760.7" cy="1451.4" r="4.0"/>
<circle cx="733.6" cy="1451.7" r="4.0"/>
<circle cx="706.6" cy="1452.0" r="4.0"/>
<circle cx="679.5" cy="1452.3" r="4.0"/>
<circle cx="652.4" cy="1452.6" r="4.0"/>
<circle cx="625.3" cy="1452.8" r="4.0"/>
<circle cx="598.2" cy="1453.1" r="4.0"/>
<circle cx="1411.1" cy="1494.8" r="4.0"/>
<circle cx="1384.0" cy="1495.1" r="4.0"/>
<circle cx="1356.9" cy="1495.4" r="4.0"/>
<circle cx="1329.8" cy="1495.6" r="4.0"/>
<circle cx="1302.7" cy="1495.9" r="4.0"/>
<circle cx="1275.7" cy="1496.2" r="4.0"/>
<circle cx="1248.6" cy="1496.5" r="4.0"/>
<circle cx="1221.5" cy="1496.8" r="4.0"/>
<circle cx="1194.4" cy="1497.1" r="4.0"/>
<circle cx="1167.3" cy="1497.4" r="4.0"/>
<circle cx="1140.3" cy="1497.7" r="4.0"/>
<circle cx="1113.2" cy="1498.0" r="4.0"/>
<circle cx="1086.1" cy="1498.3" r="4.0"/>
<circle cx="1059.0" cy="1498.6" r="4.0"/>
<circle cx="1031.9" cy="1498.9" r="4.0"/>
<circle cx="1004.9" cy="1499.2" r="4.0"/>
<circle cx="977.8" cy="1499.5" r="4.0"/>
<circle cx="950.7" cy="1499.8" r="4.0"/>
<circle cx="923.6" cy="1500.1" r="4.0"/>
<circle cx="896.5" cy="1500.4" r="4.0"/>
<circle cx="869.5" cy="1500.7" r="4.0"/>
<circle cx="842.4" cy="1501.0" r="4.0"/>
<circle cx="815.3" cy="1501.3" r="4.0"/>
<circle cx="788.2" cy="1501.6" r="4.0"/>
<circle cx="761.1" cy="1501.8" r="4.0"/>
<circle cx="734.1" cy="1502.1" r="4.0"/>
<circle cx="707.0" cy="1502.4" r="4.0"/>
<circle cx="679.9" cy="1502.7" r="4.0"/>
<circle cx="1411.5" cy="1544.7" r="4.0"/>
<circle cx="1384.4" cy="1545.0" r="4.0"/>
<circle cx="1357.3" cy="1545.3" r="4.0"/>
<circle cx="1330.2" cy="1545.5" r="4.0"/>
<circle cx="1303.1" cy="1545.8" r="4.0"/>
<circle cx="1276.1" cy="1546.1" r="4.0"/>
<circle cx="1249.0" cy="1546.4" r="4.0"/>
<circle cx="1221.9" cy="1546.7" r="4.0"/>
<circle cx="1194.8" cy="1547.0" r="4.0"/>
<circle cx="1167.7" cy="1547.3" r="4.0"/>
<circle cx="1140.7" cy="1547.6" r="4.0"/>
<circle cx="1113.6" cy="1547.9" r="4.0"/>
<circle cx="1086.5" cy="1548.2" r="4.0"/>
<circle cx="1059.4" cy="1548.5" r="4.0"/>
<circle cx="1032.3" cy="1548.8" r="4.0"/>
<circle cx="1005.3" cy="1549.1" r="4.0"/>
<circle cx="978.2" cy="1549.4" r="4.0"/>
<circle cx="1411.9" cy="1594.3" r="4.0"/>
<circle cx="1384.8" cy="1594.6" r="4.0"/>
<circle cx="1357.7" cy="1594.9" r="4.0"/>
<circle cx="1330.6" cy="1595.1" r="4.0"/>
<circle cx="1303.6" cy="1595.4" r="4.0"/>
<circle cx="1276.5" cy="1595.7" r="4.0"/>
<circle cx="1249.4" cy="1596.0" r="4.0"/>
<circle cx="1222.3" cy="1596.3" r="4.0"/>
<circle cx="1195.2" cy="1596.6" r="4.0"/>
<circle cx="1168.2" cy="1596.9" r="4.0"/>
<circle cx="1141.1" cy="1597.2" r="4.0"/>
<circle cx="1114.0" cy="1597.5" r="4.0"/>
<circle cx="1086.9" cy="1597.8" r="4.0"/>
<circle cx="1059.8" cy="1598.1" r="4.0"/>
<circle cx="1032.8" cy="1598.4" r="4.0"/>
<circle cx="1005.7" cy="1598.7" r="4.0"/>
<circle cx="978.6" cy="1599.0" r="4.0"/>
<circle cx="951.5" cy="1599.3" r="4.0"/>
<circle cx="924.4" cy="1599.6" r="4.0"/>
<circle cx="897.4" cy="1599.9" r="4.0"/>
<circle cx="870.3" cy="1600.2" r="4.0"/>
<circle cx="1412.3" cy="1642.9" r="4.0"/>
<circle cx="1385.2" cy="1643.2" r="4.0"/>
<circle cx="1358.1" cy="1643.5" r="4.0"/>
<circle cx="1331.0" cy="1643.7" r="4.0"/>
<circle cx="1304.0" cy="1644.0" r="4.0"/>
<circle cx="1276.9" cy="1644.3" r="4.0"/>
<circle cx="1249.8" cy="1644.6" r="4.0"/>
<circle cx="1222.7" cy="1644.9" r="4.0"/>
<circle cx="1195.6" cy="1645.2" r="4.0"/>
<circle cx="1168.6" cy="1645.5" r="4.0"/>
<circle cx="1141.5" cy="1645.8" r="4.0"/>
<circle cx="1114.4" cy="1646.1" r="4.0"/>
<circle cx="1087.3" cy="1646.4" r="4.0"/>
<circle cx="1060.2" cy="1646.7" r="4.0"/>
<circle cx="1033.2" cy="1647.0" r="4.0"/>
<circle cx="1006.1" cy="1647.3" r="4.0"/>
<circle cx="979.0" cy="1647.6" r="4.0"/>
<circle cx="951.9" cy="1647.9" r="4.0"/>
<circle cx="924.8" cy="1648.2" r="4.0"/>
<circle cx="897.8" cy="1648.5" r="4.0"/>
<circle cx="870.7" cy="1648.8" r="4.0"/>
<circle cx="843.6" cy="1649.1" r="4.0"/>
<circle cx="816.5" cy="1649.4" r="4.0"/>
<circle cx="789.4" cy="1649.7" r="4.0"/>
<circle cx="762.4" cy="1649.9" r="4.0"/>
<circle cx="735.3" cy="1650.2" r="4.0"/>
<circle cx="708.2" cy="1650.5" r="4.0"/>
<circle cx="681.1" cy="1650.8" r="4.0"/>
<circle cx="1412.7" cy="1691.9" r="4.0"/>
<circle cx="1385.6" cy="1692.2" r="4.0"/>
<circle cx="1358.5" cy="1692.5" r="4.0"/>
<circle cx="1331.4" cy="1692.8" r="4.0"/>
<circle cx="1304.4" cy="1693.0" r="4.0"/>
<circle cx="1277.3" cy="1693.3" r="4.0"/>
<circle cx="1250.2" cy="1693.6" r="4.0"/>
<circle cx="1223.1" cy="1693.9" r="4.0"/>
<circle cx="1196.0" cy="1694.2" r="4.0"/>
<circle cx="1169.0" cy="1694.5" r="4.0"/>
<circle cx="1141.9" cy="1694.8" r="4.0"/>
<circle cx="1114.8" cy="1695.1" r="4.0"/>
<circle cx="1087.7" cy="1695.4" r="4.0"/>
<circle cx="1060.6" cy="1695.7" r="4.0"/>
<circle cx="1033.6" cy="1696.0" r="4.0"/>
<circle cx="1006.5" cy="1696.3" r="4.0"/>
<circle cx="979.4" cy="1696.6" r="4.0"/>
<circle cx="952.3" cy="1696.9" r="4.0"/>
<circle cx="925.2" cy="1697.2" r="4.0"/>
<circle cx="898.2" cy="1697.5" r="4.0"/>
<circle cx="871.1" cy="1697.8" r="4.0"/>
<circle cx="844.0" cy="1698.1" r="4.0"/>
<circle cx="816.9" cy="1698.4" r="4.0"/>
<circle cx="789.8" cy="1698.7" r="4.0"/>
<circle cx="762.8" cy="1698.9" r="4.0"/>
<circle cx="735.7" cy="1699.2" r="4.0"/>
<circle cx="708.6" cy="1699.5" r="4.0"/>
<circle cx="681.5" cy="1699.8" r="4.0"/>
<circle cx="654.4" cy="1700.1" r="4.0"/>
<circle cx="1413.1" cy="1742.1" r="4.0"/>
<circle cx="1386.0" cy="1742.4" r="4.0"/>
<circle cx="1358.9" cy="1742.7" r="4.0"/>
<circle cx="1331.9" cy="1743.0" r="4.0"/>
<circle cx="1304.8" cy="1743.2" r="4.0"/>
<circle cx="1277.7" cy="1743.5" r="4.0"/>
<circle cx="1250.6" cy="1743.8" r="4.0"/>
<circle cx="1223.5" cy="1744.1" r="4.0"/>
<circle cx="1196.5" cy="1744.4" r="4.0"/>
<circle cx="1169.4" cy="1744.7" r="4.0"/>
<circle cx="1142.3" cy="1745.0" r="4.0"/>
<circle cx="1115.2" cy="1745.3" r="4.0"/>
<circle cx="1088.1" cy="1745.6" r="4.0"/>
<circle cx="1061.1" cy="1745.9" r="4.0"/>
<circle cx="1034.0" cy="1746.2" r="4.0"/>
<circle cx="1006.9" cy="1746.5" r="4.0"/>
<circle cx="979.8" cy="1746.8" r="4.0"/>
<circle cx="952.7" cy="1747.1" r="4.0"/>
<circle cx="925.7" cy="1747.4" r="4.0"/>
<circle cx="898.6" cy="1747.7" r="4.0"/>
<circle cx="871.5" cy="1748.0" r="4.0"/>
<circle cx="844.4" cy="1748.3" r="4.0"/>
<circle cx="817.3" cy="1748.6" r="4.0"/>
<circle cx="790.3" cy="1748.9" r="4.0"/>
<circle cx="763.2" cy="1749.2" r="4.0"/>
<circle cx="736.1" cy="1749.4" r="4.0"/>
<circle cx="709.0" cy="1749.7" r="4.0"/>
<circle cx="681.9" cy="1750.0" r="4.0"/>
<circle cx="1413.5" cy="1792.1" r="4.0"/>
<circle cx="1386.4" cy="1792.4" r="4.0"/>
<circle cx="1359.3" cy="1792.7" r="4.0"/>
<circle cx="1332.3" cy="1793.0" r="4.0"/>
<circle cx="1305.2" cy="1793.3" r="4.0"/>
<circle cx="1278.1" cy="1793.6" r="4.0"/>
<circle cx="1251.0" cy="1793.9" r="4.0"/>
<circle cx="1223.9" cy="1794.2" r="4.0"/>
<circle cx="1196.9" cy="1794.5" r="4.0"/>
<circle cx="1169.8" cy="1794.8" r="4.0"/>
<circle cx="1142.7" cy="1795.0" r="4.0"/>
<circle cx="1115.6" cy="1795.3" r="4.0"/>
<circle cx="1088.5" cy="1795.6" r="4.0"/>
<circle cx="1061.5" cy="1795.9" r="4.0"/>
<circle cx="1034.4" cy="1796.2" r="4.0"/>
<circle cx="1007.3" cy="1796.5" r="4.0"/>
<circle cx="980.2" cy="1796.8" r="4.0"/>
<circle cx="953.1" cy="1797.1" r="4.0"/>
<circle cx="926.1" cy="1797.4" r="4.0"/>
<circle cx="899.0" cy="1797.7" r="4.0"/>
<circle cx="871.9" cy="1798.0" r="4.0"/>
<circle cx="844.8" cy="1798.3" r="4.0"/>
<circle cx="817.7" cy="1798.6" r="4.0"/>
<circle cx="790.7" cy="1798.9" r="4.0"/>
<circle cx="763.6" cy="1799.2" r="4.0"/>
<circle cx="736.5" cy="1799.5" r="4.0"/>
<circle cx="709.4" cy="1799.8" r="4.0"/>
<circle cx="682.3" cy="1800.1" r="4.0"/>
<circle cx="655.3" cy="1800.4" r="4.0"/>
<circle cx="628.2" cy="1800.7" r="4.0"/>
<circle cx="601.1" cy="1800.9" r="4.0"/>
<circle cx="574.0" cy="1801.2" r="4.0"/>
<circle cx="546.9" cy="1801.5" r="4.0"/>
<circle cx="1414.1" cy="1865.5" r="4.0"/>
<circle cx="1387.0" cy="1865.8" r="4.0"/>
<circle cx="1360.0" cy="1866.1" r="4.0"/>
<circle cx="1332.9" cy="1866.4" r="4.0"/>
<circle cx="1305.8" cy="1866.7" r="4.0"/>
<circle cx="1278.7" cy="1867.0" r="4.0"/>
<circle cx="1251.6" cy="1867.3" r="4.0"/>
<circle cx="1224.6" cy="1867.6" r="4.0"/>
<circle cx="1197.5" cy="1867.9" r="4.0"/>
<circle cx="1170.4" cy="1868.2" r="4.0"/>
<circle cx="1143.3" cy="1868.4" r="4.0"/>
<circle cx="1116.2" cy="1868.7" r="4.0"/>
<circle cx="1089.2" cy="1869.0" r="4.0"/>
<circle cx="1062.1" cy="1869.3" r="4.0"/>
<circle cx="1035.0" cy="1869.6" r="4.0"/>
<circle cx="1007.9" cy="1869.9" r="4.0"/>
<circle cx="980.8" cy="1870.2" r="4.0"/>
<circle cx="953.8" cy="1870.5" r="4.0"/>
<circle cx="926.7" cy="1870.8" r="4.0"/>
<circle cx="899.6" cy="1871.1" r="4.0"/>
<circle cx="872.5" cy="1871.4" r="4.0"/>
<circle cx="845.4" cy="1871.7" r="4.0"/>
<circle cx="818.4" cy="1872.0" r="4.0"/>
<circle cx="791.3" cy="1872.3" r="4.0"/>
<circle cx="764.2" cy="1872.6" r="4.0"/>
<circle cx="737.1" cy="1872.9" r="4.0"/>
<circle cx="710.0" cy="1873.2" r="4.0"/>
<circle cx="683.0" cy="1873.5" r="4.0"/>
<circle cx="655.9" cy="1873.8" r="4.0"/>
<circle cx="628.8" cy="1874.1" r="4.0"/>
<circle cx="601.7" cy="1874.4" r="4.0"/>
<circle cx="574.6" cy="1874.6" r="4.0"/>
<circle cx="547.6" cy="1874.9" r="4.0"/>
<circle cx="520.5" cy="1875.2" r="4.0"/>
<circle cx="493.4" cy="1875.5" r="4.0"/>
<circle cx="1414.7" cy="1932.7" r="4.0"/>
<circle cx="1387.6" cy="1933.0" r="4.0"/>
<circle cx="1360.5" cy="1933.3" r="4.0"/>
<circle cx="1333.4" cy="1933.6" r="4.0"/>
<circle cx="1306.3" cy="1933.9" r="4.0"/>
<circle cx="1279.3" cy="1934.2" r="4.0"/>
<circle cx="1252.2" cy="1934.5" r="4.0"/>
<circle cx="1225.1" cy="1934.8" r="4.0"/>
<circle cx="1198.0" cy="1935.1" r="4.0"/>
<circle cx="1170.9" cy="1935.4" r="4.0"/>
<circle cx="1143.9" cy="1935.6" r="4.0"/>
<circle cx="1116.8" cy="1935.9" r="4.0"/>
<circle cx="1089.7" cy="1936.2" r="4.0"/>
<text x="303.1" y="2061.9" font-size="46.0" textLength="20.7" lengthAdjust="spacingAndGlyphs" transform="rotate(-0.6245 303.1 2061.9)">*</text>
<text x="0" y="0" font-size="54.0" letter-spacing="2.414" transform="rotate(-0.6245 326.2 2064.9) translate(326.2 2064.9) scale(0.9300 1)">Total of detail immediately following. Because of rounding and adjustments reflecting “unclassified” excise taxes, details may not add to totals.</text>
<text x="304.5" y="2111.2" font-size="30.0" textLength="17.0" lengthAdjust="spacingAndGlyphs" transform="rotate(-0.6245 304.5 2111.2)" style="stroke-width:1.6px">1</text>
<text x="0" y="0" font-size="54.0" letter-spacing="2.643" transform="rotate(-0.6245 323.2 2129.2) translate(323.2 2129.2) scale(0.9300 1)">Receipts do not indicate the true federal tax burden because taxes are often collected in one state from individuals and corporations that reside or have operations in another state.</text>
<text x="306.6" y="2178.1" font-size="30.0" textLength="15.0" lengthAdjust="spacingAndGlyphs" transform="rotate(-0.6245 306.6 2178.1)" style="stroke-width:1.6px">2</text>
<text x="0" y="0" font-size="54.0" letter-spacing="2.926" transform="rotate(-0.6245 326.2 2196.1) translate(326.2 2196.1) scale(0.9300 1)">Federal Insurance Contributions Act (F.I.C.A.); Self-Employment Contributions Act (S.E.C.A.).</text>
<text x="307.0" y="2243.6" font-size="30.0" textLength="14.5" lengthAdjust="spacingAndGlyphs" transform="rotate(-0.6245 307.0 2243.6)" style="stroke-width:1.6px">3</text>
<text x="0" y="0" font-size="54.0" letter-spacing="2.025" transform="rotate(-0.6245 325.8 2261.6) translate(325.8 2261.6) scale(0.9300 1)">Includes tobacco taxes in 1986-87.</text>
<text x="0" y="0" font-size="54.0" letter-spacing="2.555" transform="rotate(-0.6245 300.4 2327.1) translate(300.4 2327.1) scale(0.9300 1)">Source: U.S. Treasury Department, Commissioner and Chief Counsel of Internal Revenue Service, <tspan font-style="italic">1987 Annual Report,</tspan> Table 1, and for prior years.</text>
<text transform="translate(4703.8 1087.7) rotate(89.700)" x="0" y="0" textLength="1167.7" lengthAdjust="spacingAndGlyphs" style="stroke-width:2px"><tspan font-size="88.5">W</tspan><tspan font-size="64.0">ISCONSIN </tspan><tspan font-size="88.5">B</tspan><tspan font-size="64.0">LUE </tspan><tspan font-size="88.5">B</tspan><tspan font-size="64.0">OOK </tspan><tspan font-size="90.0">1989-1990</tspan></text>
<text transform="translate(4699.5 285.9) rotate(89.7)" x="0" y="0" font-size="92" font-weight="bold" textLength="124.9" lengthAdjust="spacingAndGlyphs">830</text>
</g>
</svg>
</body></html>
